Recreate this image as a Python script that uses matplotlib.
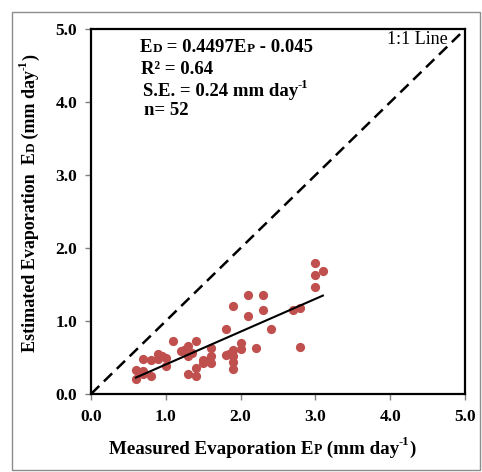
import matplotlib
matplotlib.use("Agg")
import matplotlib.pyplot as plt
from matplotlib.patches import Rectangle

# measured (pan) vs estimated evaporation, mm/day  (n = 52)
measured_ep = [0.60, 0.60, 0.65, 0.70, 0.70, 0.70, 0.80, 0.80, 0.90, 0.90,
               0.95, 1.00, 1.00, 1.10, 1.20, 1.25, 1.30, 1.30, 1.30, 1.35,
               1.40, 1.40, 1.40, 1.50, 1.50, 1.55, 1.60, 1.60, 1.60, 1.80,
               1.80, 1.85, 1.90, 1.90, 1.90, 1.90, 1.90, 2.00, 2.00, 2.10,
               2.10, 2.20, 2.30, 2.30, 2.40, 2.70, 2.80, 2.80, 3.00, 3.00,
               3.00, 3.10]
estimated_ed = [0.33, 0.21, 0.30, 0.48, 0.28, 0.32, 0.47, 0.24, 0.55, 0.48,
                0.52, 0.50, 0.38, 0.73, 0.59, 0.60, 0.66, 0.52, 0.28, 0.56,
                0.73, 0.36, 0.24, 0.47, 0.43, 0.45, 0.63, 0.52, 0.43, 0.89,
                0.54, 0.55, 1.20, 0.60, 0.52, 0.44, 0.34, 0.70, 0.61, 1.36,
                1.07, 0.63, 1.36, 1.15, 0.89, 1.15, 1.18, 0.64, 1.46, 1.63,
                1.80, 1.69]

fit_slope = 0.4497
fit_intercept = -0.045
axis_ticks = [0, 1, 2, 3, 4, 5]
tick_labels = ["0.0", "1.0", "2.0", "3.0", "4.0", "5.0"]

SERIF = ["Liberation Serif", "DejaVu Serif"]
DESC = 0.22  # descent as fraction of font size, for baseline alignment


def chain(ax, first, parts, rot=0):
    """Append text runs after `first` (small caps / superscripts)."""
    prev, prev_rise, prev_size = first, 0.0, first.get_fontsize()
    for txt, size, rise in parts:
        d = rise - prev_rise + (prev_size - size) * DESC
        if rot == 0:
            xy, off, ha = (1, 0), (0, d), "left"
        else:
            xy, off, ha = (1, 1), (-d, 0), "right"
        prev = ax.annotate(txt, xy=xy, xycoords=prev, xytext=off,
                           textcoords="offset points", ha=ha, va="bottom",
                           rotation=rot, fontsize=size, fontweight="bold",
                           family=SERIF)
        prev_rise, prev_size = rise, size
    return prev


fig = plt.figure(figsize=(4.82, 4.72), dpi=100)
ax = fig.add_axes([0.1888, 0.1653, 0.7759, 0.7726])

# outer frame
fig.add_artist(Rectangle((12 / 482, 1 - 470 / 472), 468 / 482, 458 / 472,
                         transform=fig.transFigure, fill=False,
                         edgecolor="#8c8c8c", linewidth=1.0))

ax.plot([0, 5], [0, 5], color="black", linewidth=1.8, dashes=(4.6, 2.6))
ax.scatter(measured_ep, estimated_ed, s=44, color="#C0504D", zorder=3,
           linewidths=0)
x0, x1 = min(measured_ep), max(measured_ep)
ax.plot([x0, x1], [fit_slope * x0 + fit_intercept, fit_slope * x1 + fit_intercept],
        color="black", linewidth=1.5, zorder=4)

ax.set_xlim(0, 5)
ax.set_ylim(0, 5)
ax.set_xticks(axis_ticks)
ax.set_yticks(axis_ticks)
ax.set_xticklabels(tick_labels, fontsize=12.5, fontweight="bold", family=SERIF)
ax.set_yticklabels(tick_labels, fontsize=12.5, fontweight="bold", family=SERIF)
ax.tick_params(axis="x", direction="out", length=4, width=1, color="#808080", pad=7)
ax.tick_params(axis="y", direction="out", length=4, width=1, color="#808080", pad=6)
for sp in ax.spines.values():
    sp.set_linewidth(1.6)
    sp.set_color("black")

# 1:1 label
ax.text(3.96, 4.80, "1:1 Line", fontsize=13, family=SERIF, va="baseline")

# regression stats
t = ax.text(0.655, 4.63, "E", fontsize=13.5, fontweight="bold", family=SERIF,
            va="bottom")
chain(ax, t, [("D", 9.5, 0), (" = 0.4497E", 13.5, 0), ("P", 9.5, 0),
              (" - 0.045", 13.5, 0)])
ax.text(0.675, 4.33, "R² = 0.64", fontsize=13.5, fontweight="bold", family=SERIF,
        va="bottom")
t = ax.text(0.69, 4.03, "S.E. = 0.24 mm day", fontsize=13.5, fontweight="bold",
            family=SERIF, va="bottom")
chain(ax, t, [("-1", 9, 5.5)])
ax.text(0.71, 3.77, "n= 52", fontsize=13.5, fontweight="bold", family=SERIF,
        va="bottom")

# axis labels
t = fig.text(0.226, 0.030, "Measured Evaporation E", fontsize=13.7,
             fontweight="bold", family=SERIF, va="bottom", ha="left")
chain(ax, t, [("P", 10, 0), (" (mm day", 13.7, 0), ("-1", 9, 6),
              (")", 13.7, 0)])
t = fig.text(0.081, 0.254, "Estimated Evaporation  E", fontsize=13,
             fontweight="bold", family=SERIF, va="bottom", ha="right",
             rotation=90)
chain(ax, t, [("D", 9.5, 0), (" (mm day", 13, 0), ("-1", 8.5, 5.5),
              (")", 13, 0)], rot=90)

fig.savefig("out.png", dpi=100)
